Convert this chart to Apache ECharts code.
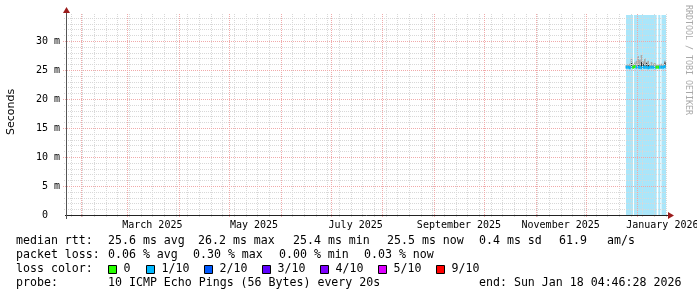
<!DOCTYPE html>
<html><head><meta charset="utf-8">
<script src="https://cdn.jsdelivr.net/npm/echarts@6/dist/echarts.min.js"></script>
<style>html,body{margin:0;padding:0;background:#fff}#c{width:697px;height:297px}</style>
</head><body><div id="c"></div>
<script>
// ---------- time frame ----------
const END = Date.parse('2026-01-18T04:46:28Z');
const DAY = 86400000;
const START = END - 360 * DAY;
const Y_MAX = 34.5; // ms

// ---------- axis ticks / labels ----------
const yMajorTicks = [0, 5, 10, 15, 20, 25, 30];
const yTickLabels = ['0  ', '5 m', '10 m', '15 m', '20 m', '25 m', '30 m'];
const monthLines = ['2025-02-01','2025-03-01','2025-04-01','2025-05-01','2025-06-01','2025-07-01',
                    '2025-08-01','2025-09-01','2025-10-01','2025-11-01','2025-12-01','2026-01-01'];
const monthLabels = ['March 2025','May 2025','July 2025','September 2025','November 2025','January 2026'];
const monthLabelDates = ['2025-03-16','2025-05-16','2025-07-16','2025-09-16','2025-11-16','2026-01-16'];
const firstSunday = '2025-01-26';

// ---------- data (ms) ----------
const dayDates = ['2025-12-25','2025-12-26','2025-12-27','2025-12-28','2025-12-29','2025-12-30','2025-12-31',
                  '2026-01-01','2026-01-02','2026-01-03','2026-01-04','2026-01-05','2026-01-06','2026-01-07',
                  '2026-01-08','2026-01-09','2026-01-10','2026-01-11','2026-01-12','2026-01-13','2026-01-14',
                  '2026-01-15','2026-01-16','2026-01-17','2026-01-18'];
const medianRtt = [25.5,25.5,25.4,25.5,25.5,25.6,25.5,25.5,25.5,25.4,25.5,25.5,25.5,25.4,25.5,25.5,25.5,25.4,25.5,25.5,25.5,25.5,25.5,25.6,25.5];
const lossIndex = [1,1,1,1,0,0,1,1,1,1,1,1,1,1,1,1,1,1,0,0,1,1,1,1,1];
const smokeLow  = [25.3,25.3,25.2,25.3,25.3,25.3,25.3,25.3,25.2,25.2,25.3,25.3,25.3,25.2,25.3,25.3,25.3,25.3,25.3,25.3,25.3,25.3,25.3,25.3,25.3];
const smokeHigh = [25.9,26.0,26.1,27.1,26.0,26.3,26.6,27.4,26.8,27.6,26.5,27.0,26.4,26.6,26.0,26.4,26.1,26.2,26.0,25.9,26.0,26.1,26.0,26.6,26.0];
const smokeDark = [25.6,25.6,25.6,26.3,25.7,25.8,25.7,25.9,25.8,26.4,26.0,25.8,26.2,25.9,25.7,25.7,25.7,25.6,25.6,25.6,25.6,25.7,25.7,26.3,25.6];
const bandStart = ['2025-12-25T04:46:28Z','2025-12-29T23:00:00Z','2026-01-13T14:00:00Z','2026-01-15T12:00:00Z'];
const bandEnd   = ['2025-12-29T09:00:00Z','2026-01-12T14:30:00Z','2026-01-14T19:00:00Z','2026-01-18T04:46:28Z'];

// ---------- legend ----------
const lossColors = ['#26ff00','#00b8ff','#0059ff','#5e00ff','#7e00ff','#dd00ff','#ff0000'];
const lossLabels = ['0','1/10','2/10','3/10','4/10','5/10','9/10'];
const statsRtt  = [['median rtt:',16],['25.6 ms avg',108],['26.2 ms max',198],['25.4 ms min',293],['25.5 ms now',387],['0.4 ms sd',479],['61.9',559],['am/s',607]];
const statsLoss = [['packet loss:',16],['0.06 % avg',108],['0.30 % max',193],['0.00 % min',279],['0.03 % now',364]];
const probeRow  = [['probe:',16],['10 ICMP Echo Pings (56 Bytes) every 20s',108],['end: Sun Jan 18 04:46:28 2026',479]];
const lossBoxX  = [108,146,204,262,320,378,436];

// ---------- styling ----------
const MONO = '"DejaVu Sans Mono", monospace';
const MINOR = '#d8d8d8';
const MAJOR = '#f0aaaa';
const AXIS = '#222';
const ARROW = '#9b1c1c';
const ts = s => Date.parse(s.length === 10 ? s + 'T00:00:00Z' : s);
const px = v => Math.round(v) + 0.5;

const chart = echarts.init(document.getElementById('c'), null, {renderer: 'canvas'});

function bandRender(params, api) {
  const i = params.dataIndex;
  const a = api.coord([ts(bandStart[i]), Y_MAX]);
  const b = api.coord([ts(bandEnd[i]), 0]);
  return {type: 'rect', shape: {x: a[0], y: a[1], width: b[0] - a[0], height: b[1] - a[1]},
          style: {fill: '#aae6fa'}};
}

function dataRender(params, api) {
  const t = api.value(0);
  const xa = api.coord([t, 0])[0], xb = api.coord([t + DAY, 0])[0];
  const med = api.value(1), loss = api.value(2), lo = api.value(3), hi = api.value(4), dk = api.value(5);
  const yLo = api.coord([t, lo])[1], yHi = api.coord([t, hi])[1], yDk = api.coord([t, dk])[1], yMed = api.coord([t, med])[1];
  const w = xb - xa;
  return {type: 'group', children: [
    {type: 'rect', shape: {x: xa, y: yHi, width: w, height: yLo - yHi}, style: {fill: '#a8a8a8'}},
    {type: 'rect', shape: {x: xa + w * 0.3, y: yDk, width: Math.max(1, w * 0.4), height: yMed - yDk}, style: {fill: '#111'}},
    {type: 'rect', shape: {x: xa, y: yMed - 1.5, width: w, height: 3}, style: {fill: lossColors[loss]}}
  ]};
}

function gridRender(params, api) {
  const ch = [];
  const x0 = api.coord([START, 0])[0], x1 = api.coord([END, 0])[0];
  const yTop = api.coord([START, Y_MAX])[1], yBot = api.coord([START, 0])[1];
  const hline = (v, col, tick) => {
    const y = px(api.coord([START, v])[1]);
    ch.push({type: 'line', shape: {x1: x0 - tick, y1: y, x2: x1, y2: y}, style: {stroke: col, lineWidth: 1, lineDash: [1, 1]}});
  };
  const vline = (t, col) => {
    const x = px(api.coord([t, 0])[0]);
    ch.push({type: 'line', shape: {x1: x, y1: yTop - 1, x2: x, y2: yBot + 2}, style: {stroke: col, lineWidth: 1, lineDash: [1, 1]}});
  };
  for (let v = 1; v < Y_MAX; v++) if (v % 5 !== 0) hline(v, MINOR, 2);
  const monthSet = monthLines.map(ts);
  for (let t = ts(firstSunday); t < END; t += 7 * DAY) if (monthSet.indexOf(t) < 0) vline(t, MINOR);
  yMajorTicks.forEach(v => { if (v > 0) hline(v, MAJOR, 3); });
  monthSet.forEach(t => vline(t, MAJOR));
  // y tick labels
  yMajorTicks.forEach((v, i) => {
    const y = api.coord([START, v])[1];
    ch.push({type: 'text', style: {text: yTickLabels[i], x: 60, y: y, fill: '#000', font: '10px ' + MONO, align: 'right', verticalAlign: 'middle'}});
  });
  // month labels
  monthLabels.forEach((s, i) => {
    const x = api.coord([ts(monthLabelDates[i]), 0])[0];
    ch.push({type: 'text', style: {text: s, x: x, y: yBot + 10, fill: '#000', font: '10px ' + MONO, align: 'center', verticalAlign: 'middle'}});
  });
  // axes
  const ax = px(x0) - 0.5, ay = px(yBot);
  ch.push({type: 'line', shape: {x1: x0 - 1, y1: ay, x2: x1 + 2, y2: ay}, style: {stroke: AXIS, lineWidth: 1}});
  ch.push({type: 'line', shape: {x1: ax + 0.5, y1: yBot + 4, x2: ax + 0.5, y2: yTop - 2}, style: {stroke: '#555', lineWidth: 1}});
  ch.push({type: 'polygon', shape: {points: [[ax - 3, yTop - 2], [ax + 4, yTop - 2], [ax + 0.5, yTop - 8]]}, style: {fill: ARROW}});
  ch.push({type: 'polygon', shape: {points: [[x1 + 2, ay - 3.5], [x1 + 2, ay + 3.5], [x1 + 8, ay]]}, style: {fill: ARROW}});
  return {type: 'group', children: ch};
}

const graphic = [];
const row = (items, y) => items.forEach(([s, x]) => graphic.push({type: 'text', x: x, y: y,
  style: {text: s, fill: '#000', font: '11.6px ' + MONO, verticalAlign: 'middle', align: 'left'}}));
row(statsRtt, 241);
row(statsLoss, 255);
row([['loss color:', 16]], 269);
lossLabels.forEach((s, i) => {
  graphic.push({type: 'rect', shape: {x: lossBoxX[i] + 0.5, y: 265.5, width: 8, height: 8},
    style: {fill: lossColors[i], stroke: '#000', lineWidth: 1}});
  graphic.push({type: 'text', x: lossBoxX[i] + 15.5, y: 269,
    style: {text: s, fill: '#000', font: '11.6px ' + MONO, verticalAlign: 'middle', align: 'left'}});
});
row(probeRow, 283);
graphic.push({type: 'text', x: 11, y: 112, rotation: Math.PI / 2,
  style: {text: 'Seconds', fill: '#000', font: '11px "DejaVu Sans", sans-serif', align: 'center', verticalAlign: 'middle'}});
graphic.push({type: 'text', x: 688, y: 60, rotation: -Math.PI / 2,
  style: {text: 'RRDTOOL / TOBI OETIKER', fill: '#a8a8a8', font: '8.3px ' + MONO, align: 'center', verticalAlign: 'middle'}});

const option = {
  animation: false,
  backgroundColor: '#fff',
  grid: {left: 66, right: 31, top: 15, bottom: 82},
  xAxis: {type: 'time', min: START, max: END, show: false},
  yAxis: {type: 'value', min: 0, max: Y_MAX, show: false},
  graphic: graphic,
  series: [
    {type: 'custom', renderItem: bandRender, clip: true, silent: true, z: 1,
     data: bandStart.map((s, i) => [ts(s), 0])},
    {type: 'custom', renderItem: dataRender, clip: true, silent: true, z: 2,
     data: dayDates.map((d, i) => [ts(d), medianRtt[i], lossIndex[i], smokeLow[i], smokeHigh[i], smokeDark[i]])},
    {type: 'custom', renderItem: gridRender, clip: false, silent: true, z: 3,
     data: [[START, 0]]}
  ]
};
chart.setOption(option);
</script></body></html>
